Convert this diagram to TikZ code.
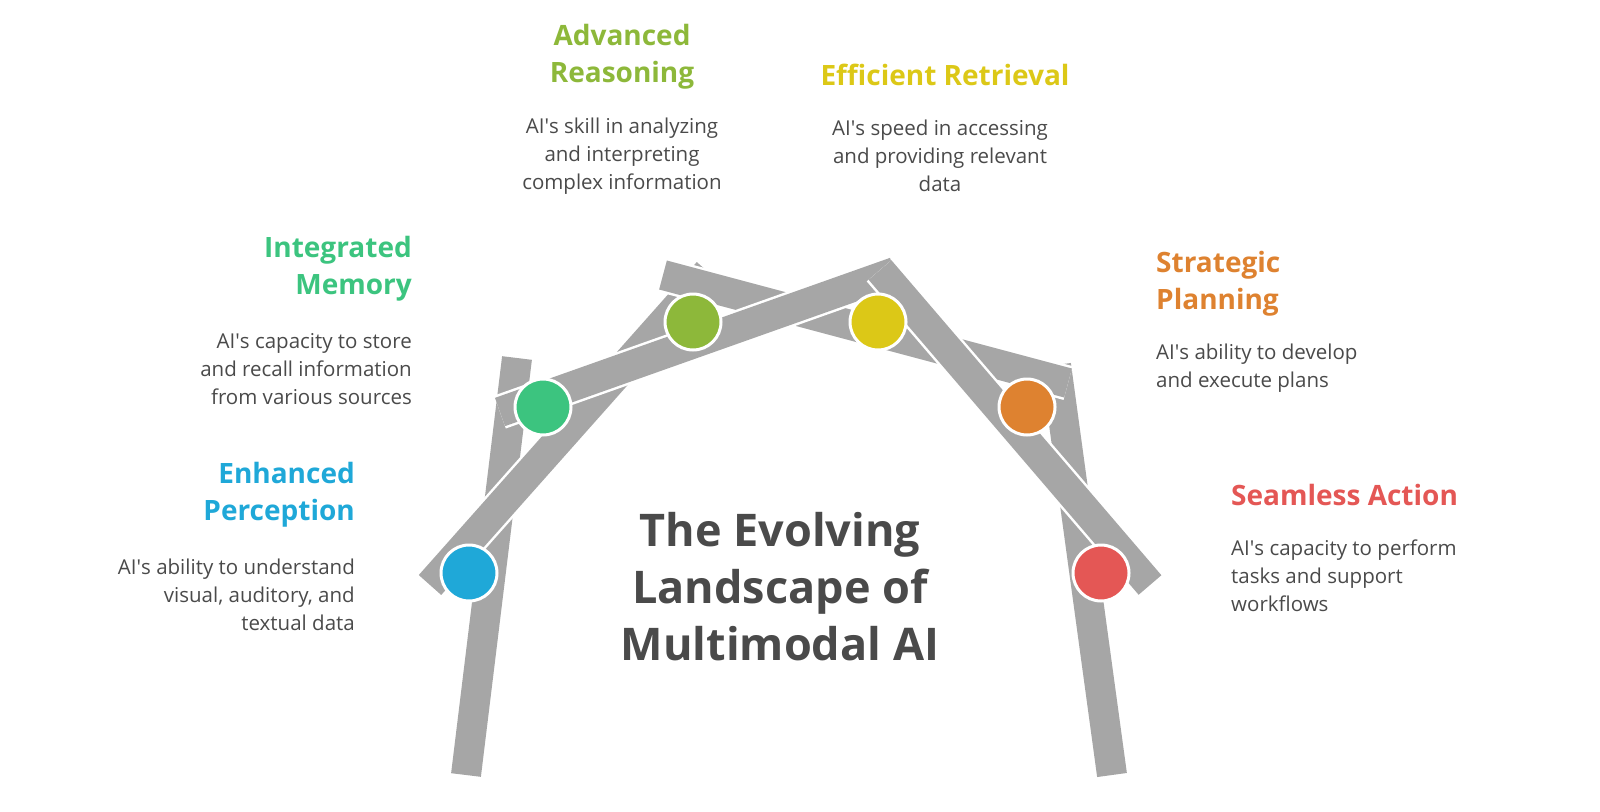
\documentclass[tikz,border=0pt]{standalone}
\usepackage{fontspec}
\setmainfont{Open Sans}
\newcommand\ap{\textquotesingle}
\begin{document}
\begin{tikzpicture}[x=1pt,y=-1pt,
  ttl/.style={font=\fontsize{28}{37}\selectfont\bfseries,inner sep=0},
  dsc/.style={font=\fontsize{20.5}{28}\selectfont,text=txt,inner sep=0},
  dot/.style={circle,draw=white,line width=3pt,minimum size=56pt,inner sep=0}]
\definecolor{txt}{HTML}{4A4A4A}
\definecolor{barc}{HTML}{A6A6A6}
\definecolor{cB}{HTML}{1FA8D8}\definecolor{cG}{HTML}{3CC47F}
\definecolor{cO}{HTML}{8DB83A}\definecolor{cY}{HTML}{DCC817}
\definecolor{cR}{HTML}{DE8230}\definecolor{cD}{HTML}{E45755}
\useasboundingbox (0,0) rectangle (1600,811);
\newcommand\gbar[2]{\draw[white,line width=35pt] #1 -- #2; \draw[barc,line width=30pt] #1 -- #2;}
\gbar{(466,775)}{(517,358)}
\gbar{(1112,775)}{(1056,365)}
\gbar{(430,585)}{(708,272)}
\gbar{(663,275)}{(1068,383)}
\gbar{(500,412)}{(895,272)}
\gbar{(880,270)}{(1150,585)}
\node[dot,fill=cB] (b) at (469,573) {};
\node[dot,fill=cG] (g) at (543,407) {};
\node[dot,fill=cO] (o) at (693,322) {};
\node[dot,fill=cY] (y) at (878,322) {};
\node[dot,fill=cR] (r) at (1027,407) {};
\node[dot,fill=cD] (d) at (1101,573) {};
\node[font=\fontsize{45}{57}\selectfont\bfseries,text=txt,align=center] (t) at (780,587) {The Evolving\\Landscape of\\Multimodal AI};
\node[ttl,text=cO,align=center] (ta) at (622,57) {Advanced\\Reasoning};
\node[dsc,align=center] (da) at (622,156) {AI\ap s skill in analyzing\\and interpreting\\complex information};
\node[ttl,text=cY,anchor=center] (te) at (945,75) {Efficient Retrieval};
\node[dsc,align=center] (de) at (940,156) {AI\ap s speed in accessing\\and providing relevant\\data};
\node[ttl,text=cG,align=right,anchor=east] (tm) at (412,269) {Integrated\\Memory};
\node[dsc,align=right,anchor=east] (dm) at (412,369) {AI\ap s capacity to store\\and recall information\\from various sources};
\node[ttl,text=cR,align=left,anchor=west] (tp) at (1156,284) {Strategic\\Planning};
\node[dsc,align=left,anchor=west] (dp) at (1156,368) {AI\ap s ability to develop\\and execute plans};
\node[ttl,text=cB,align=right,anchor=east] (tc) at (355,495) {Enhanced\\Perception};
\node[dsc,align=right,anchor=east] (dc) at (355,595) {AI\ap s ability to understand\\visual, auditory, and\\textual data};
\node[ttl,text=cD,anchor=west] (ts) at (1231,495) {Seamless Action};
\node[dsc,align=left,anchor=west] (ds) at (1231,576) {AI\ap s capacity to perform\\tasks and support\\workflows};
\end{tikzpicture}
\end{document}
